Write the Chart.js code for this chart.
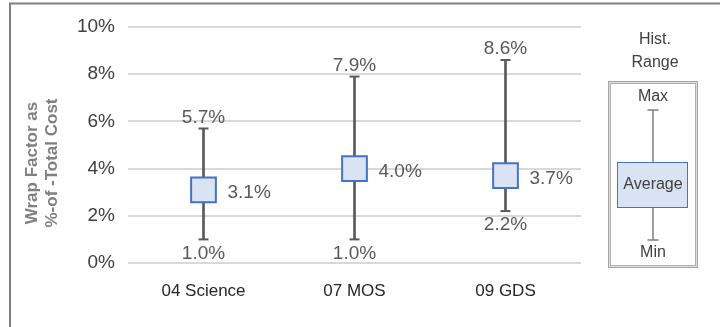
<!DOCTYPE html>
<html>
<head>
<meta charset="utf-8">
<script src="https://cdn.jsdelivr.net/npm/chart.js@4/dist/chart.umd.min.js"></script>
<style>
  html, body { margin: 0; padding: 0; background: #ffffff; }
  #wrap { width: 720px; height: 327px; position: relative; }
</style>
</head>
<body>
<div id="wrap"><canvas id="c"></canvas></div>
<script>
// Wrap factor history per program: min / average / max, in percent of total cost
const categories = ['04 Science', '07 MOS', '09 GDS'];
const minVals = [1.0, 1.0, 2.2];
const avgVals = [3.1, 4.0, 3.7];
const maxVals = [5.7, 7.9, 8.6];
const yTitleLines = ['Wrap Factor as', '%-of -Total Cost'];
const legendTitle = ['Hist.', 'Range'];

const FONT = '"Liberation Sans", Arial, sans-serif';
const WHISKER = '#595959';
const BOX_FILL = '#dae3f3';
const BOX_EDGE = '#4472c4';

const fmt = v => v.toFixed(1) + '%';

// Value labels next to each whisker and box
const valueLabels = {
  id: 'valueLabels',
  afterDatasetsDraw(chart) {
    const { ctx, scales: { x, y } } = chart;
    ctx.save();
    ctx.font = '19px ' + FONT;
    ctx.fillStyle = '#595959';
    ctx.textBaseline = 'middle';
    categories.forEach((c, i) => {
      const px = x.getPixelForValue(i);
      ctx.textAlign = 'center';
      ctx.fillText(fmt(maxVals[i]), px, y.getPixelForValue(maxVals[i]) - 11);
      ctx.fillText(fmt(minVals[i]), px, y.getPixelForValue(minVals[i]) + 14);
      ctx.textAlign = 'left';
      ctx.fillText(fmt(avgVals[i]), px + 24, y.getPixelForValue(avgVals[i]) + 3);
    });
    ctx.restore();
  }
};

// Frame, rotated axis title and the explanatory key on the right
const decorations = {
  id: 'decorations',
  afterDraw(chart) {
    const { ctx } = chart;
    ctx.save();
    // frame lines (top and left)
    ctx.strokeStyle = '#808080';
    ctx.lineWidth = 2;
    ctx.beginPath();
    ctx.moveTo(10, 327);
    ctx.lineTo(10, 3.5);
    ctx.lineTo(720, 3.5);
    ctx.stroke();

    // y-axis title
    ctx.save();
    ctx.translate(0, 163);
    ctx.rotate(-Math.PI / 2);
    ctx.font = 'bold 17px ' + FONT;
    ctx.fillStyle = '#808080';
    ctx.textAlign = 'center';
    ctx.textBaseline = 'middle';
    ctx.fillText(yTitleLines[0], 0, 32);
    ctx.fillText(yTitleLines[1], 0, 52);
    ctx.restore();

    // key
    const cx = 653;
    ctx.font = '16px ' + FONT;
    ctx.fillStyle = '#404040';
    ctx.textAlign = 'center';
    ctx.textBaseline = 'middle';
    ctx.fillText(legendTitle[0], 655, 40);
    ctx.fillText(legendTitle[1], 655, 63);

    ctx.strokeStyle = '#a6a6a6';
    ctx.lineWidth = 1;
    ctx.strokeRect(608.5, 81.5, 89, 186);
    ctx.strokeStyle = '#b0b0b0';
    ctx.strokeRect(610.5, 83.5, 85, 182);
    ctx.strokeStyle = '#dcdcdc';
    ctx.strokeRect(609.5, 82.5, 87, 184);

    ctx.strokeStyle = '#7f7f7f';
    ctx.lineWidth = 1.5;
    ctx.beginPath();
    ctx.moveTo(cx, 110); ctx.lineTo(cx, 162);
    ctx.moveTo(cx - 5.5, 110); ctx.lineTo(cx + 5.5, 110);
    ctx.moveTo(cx, 208); ctx.lineTo(cx, 240);
    ctx.moveTo(cx - 5.5, 240); ctx.lineTo(cx + 5.5, 240);
    ctx.stroke();

    ctx.fillStyle = BOX_FILL;
    ctx.fillRect(617, 162, 71, 46);
    ctx.strokeStyle = BOX_EDGE;
    ctx.lineWidth = 1;
    ctx.strokeRect(617.5, 162.5, 70, 45);

    ctx.fillStyle = '#404040';
    ctx.fillText('Max', cx, 97);
    ctx.fillText('Average', cx, 185);
    ctx.fillText('Min', cx, 253);
    ctx.restore();
  }
};

new Chart(document.getElementById('c'), {
  data: {
    labels: categories,
    datasets: [
      {
        type: 'bar',
        label: 'Range',
        data: categories.map((c, i) => [minVals[i], maxVals[i]]),
        backgroundColor: WHISKER,
        barThickness: 2,
        order: 3
      },
      {
        type: 'line',
        label: 'Max',
        data: maxVals,
        showLine: false,
        pointStyle: 'line',
        pointRadius: 5,
        pointBorderWidth: 2,
        pointBorderColor: WHISKER,
        order: 2
      },
      {
        type: 'line',
        label: 'Min',
        data: minVals,
        showLine: false,
        pointStyle: 'line',
        pointRadius: 5,
        pointBorderWidth: 2,
        pointBorderColor: WHISKER,
        order: 2
      },
      {
        type: 'line',
        label: 'Average',
        data: avgVals,
        showLine: false,
        pointStyle: 'rect',
        pointRadius: 17.5,
        pointBorderWidth: 2,
        pointBackgroundColor: BOX_FILL,
        pointBorderColor: BOX_EDGE,
        clip: false,
        order: 1
      }
    ]
  },
  options: {
    responsive: true,
    maintainAspectRatio: false,
    animation: false,
    events: [],
    layout: { padding: { left: 0, right: 139, top: 27, bottom: 0 } },
    plugins: { legend: { display: false }, tooltip: { enabled: false } },
    scales: {
      x: {
        offset: true,
        grid: { display: false, drawTicks: false },
        border: { display: false },
        ticks: { color: '#262626', font: { family: FONT, size: 17 }, padding: 18 },
        afterFit(s) { s.height = 64; }
      },
      y: {
        min: 0,
        max: 10,
        grid: { color: '#d9d9d9', lineWidth: 2, drawTicks: false },
        border: { display: false },
        ticks: {
          stepSize: 2,
          color: '#404040',
          padding: 13,
          font: { family: FONT, size: 19 },
          callback: v => v + '%'
        },
        afterFit(s) { s.width = 128; }
      }
    }
  },
  plugins: [valueLabels, decorations]
});
</script>
</body>
</html>
